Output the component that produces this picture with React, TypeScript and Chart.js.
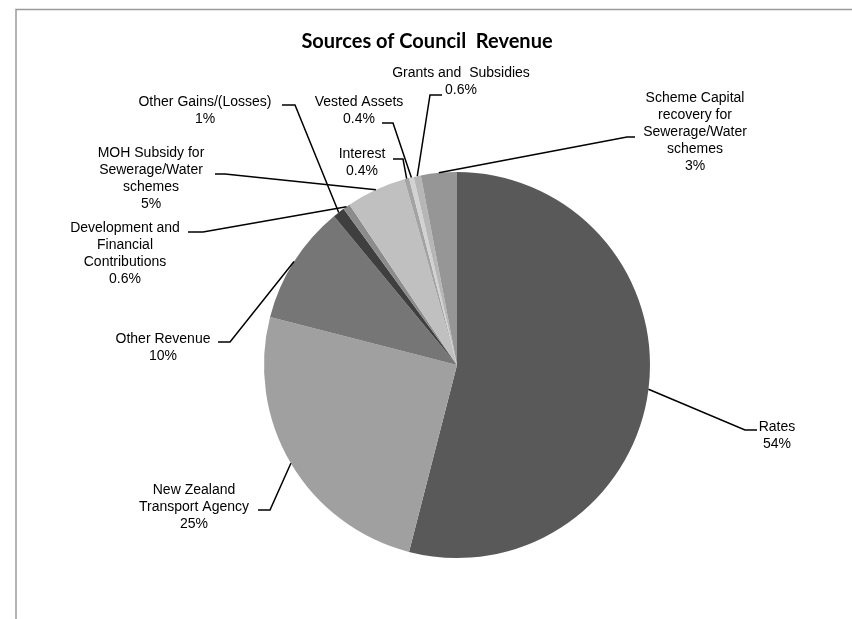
import { useEffect, useRef } from "react";
import { Chart, registerables } from "chart.js";

Chart.register(...registerables);

const chartTitle = "Sources of Council  Revenue";

const categories = [
  "Rates",
  "New Zealand\nTransport Agency",
  "Other Revenue",
  "Other Gains/(Losses)",
  "Development and\nFinancial\nContributions",
  "MOH Subsidy for\nSewerage/Water\nschemes",
  "Interest",
  "Vested Assets",
  "Grants and  Subsidies",
  "Scheme Capital\nrecovery for\nSewerage/Water\nschemes",
];

const shares = [54, 25, 10, 1, 0.6, 5, 0.4, 0.4, 0.6, 3];

const percentLabels = ["54%", "25%", "10%", "1%", "0.6%", "5%", "0.4%", "0.4%", "0.6%", "3%"];

const sliceColors = [
  "#595959",
  "#a0a0a0",
  "#767676",
  "#3f3f3f",
  "#8c8c8c",
  "#c0c0c0",
  "#a3a3a3",
  "#d2d2d2",
  "#b6b6b6",
  "#969696",
];

// label layout, offsets from the pie centre (px): [textCx, firstLineY, elbowStartX, elbowEndX, elbowY]
const labelLayout = [
  [320, 62, 300, 288, 65],
  [-263, 125, -199, -187, 145],
  [-294, -26, -239, -227, -23],
  [-252, -263, -175, -162, -260],
  [-332, -137, -269, -254, -133],
  [-306, -212, -242, -232, -191],
  [-95, -211, -64, -54, -206],
  [-98, -263, -75, -64, -242],
  [4, -292, -15, -27, -270],
  [238, -267, 178, 170, -228],
];

const LINE_H = 17;
const LABEL_FONT = "14px 'Liberation Sans', Arial, sans-serif";

const calloutPlugin = {
  id: "callouts",
  afterDraw(chart: any) {
    const ctx = chart.ctx as CanvasRenderingContext2D;
    const meta = chart.getDatasetMeta(0);
    ctx.save();
    // frame
    ctx.strokeStyle = "#9a9a9a";
    ctx.lineWidth = 1.5;
    ctx.beginPath();
    ctx.moveTo(16, chart.height);
    ctx.lineTo(16, 9.5);
    ctx.lineTo(chart.width, 9.5);
    ctx.stroke();

    // title
    ctx.fillStyle = "#000";
    ctx.font = "bold 20px Lato, 'Liberation Sans', sans-serif";
    ctx.textAlign = "center";
    ctx.textBaseline = "middle";
    ctx.fillText(chartTitle, 427, 42);

    meta.data.forEach((arc: any, i: number) => {
      const p = arc.getProps(["x", "y", "startAngle", "endAngle", "outerRadius"], true);
      const mid = (p.startAngle + p.endAngle) / 2;
      const ex = p.x + Math.cos(mid) * p.outerRadius;
      const ey = p.y + Math.sin(mid) * p.outerRadius;
      const [tx, ty, x1, x2, ly] = labelLayout[i];
      ctx.strokeStyle = "#000";
      ctx.lineWidth = 1.5;
      ctx.beginPath();
      ctx.moveTo(p.x + x1, p.y + ly);
      ctx.lineTo(p.x + x2, p.y + ly);
      ctx.lineTo(ex, ey);
      ctx.stroke();

      const lines = categories[i].split("\n").concat([percentLabels[i]]);
      ctx.font = LABEL_FONT;
      ctx.fillStyle = "#000";
      ctx.textAlign = "center";
      ctx.textBaseline = "middle";
      lines.forEach((ln, k) => {
        ctx.fillText(ln, p.x + tx, p.y + ty + k * LINE_H);
      });
    });
    ctx.restore();
  },
};

export default function App() {
  const ref = useRef<HTMLCanvasElement | null>(null);
  useEffect(() => {
    if (!ref.current) return;
    const chart = new Chart(ref.current, {
      type: "pie",
      data: {
        labels: categories,
        datasets: [
          {
            data: shares,
            backgroundColor: sliceColors,
            borderWidth: 0,
            hoverOffset: 0,
          },
        ],
      },
      options: {
        responsive: false,
        animation: false,
        layout: { padding: { top: 172, bottom: 61, left: 264, right: 202 } },
        plugins: {
          legend: { display: false },
          tooltip: { enabled: false },
          title: { display: false },
        },
      },
      plugins: [calloutPlugin],
    });
    return () => chart.destroy();
  }, []);
  return (
    <div style={{ position: "absolute", left: 0, top: 0, width: 852, height: 619, background: "#fff" }}>
      <canvas ref={ref} width={852} height={619} style={{ width: 852, height: 619, display: "block" }} />
    </div>
  );
}
